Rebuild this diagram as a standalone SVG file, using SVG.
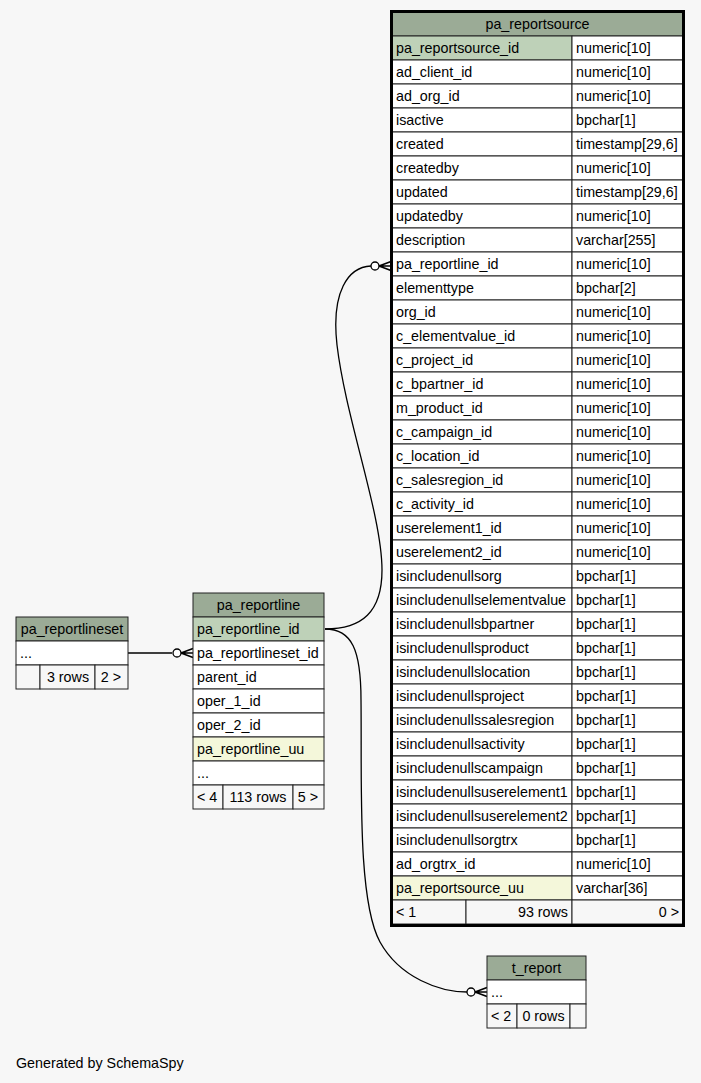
<svg xmlns="http://www.w3.org/2000/svg" width="701" height="1083" viewBox="0 0 701 1083">
<style>
text{font-family:"Liberation Sans",Arial,sans-serif;font-size:14.3px;fill:#000}
.c{stroke:#222;stroke-width:1}
.h{fill:#9bab96}
.pk{fill:#bed1b8}
.uu{fill:#f4f7da}
.w{fill:#fff}
.f{fill:#f7f7f7}
.m{text-anchor:middle}
.e{text-anchor:end}
.edge{fill:none;stroke:#000;stroke-width:1.3}
</style>
<defs>
<g id="crowodot" fill="none" stroke="#000" stroke-width="1.6">
<circle cx="-16" cy="0" r="4" fill="#fff" stroke-width="1.3"/>
<path d="M-12,0 L0,-4.5 M-12,0 L0,0 M-12,0 L0,4.5"/>
</g>
</defs>
<rect x="0" y="0" width="701" height="1083" fill="#f7f7f7"/>

<g id="connectors">
<path class="edge" d="M128,653 L172,653"/>
<path class="edge" d="M325,629 C362,629 382,612 382,570 C382,515 346,420 337,345 C331,292 348,267 371,266"/>
<path class="edge" d="M325,629 C352,629 361,650 361,700 C362,780 357,900 380,942 C400,978 440,992 467,992"/>
<use href="#crowodot" transform="translate(193,653)"/>
<use href="#crowodot" transform="translate(391,266)"/>
<use href="#crowodot" transform="translate(487,992)"/>
</g>

<g id="pa_reportlineset">
<rect class="c h" x="16" y="617" width="112" height="24"/>
<text class="m" x="72" y="633.5">pa_reportlineset</text>
<rect class="c w" x="16" y="641" width="112" height="24"/>
<text x="20" y="657.5">...</text>
<rect class="c f" x="16" y="665" width="24" height="24"/>
<rect class="c f" x="40" y="665" width="55" height="24"/>
<rect class="c f" x="95" y="665" width="33" height="24"/>
<text class="m" x="68" y="681.5">3 rows</text>
<text class="m" x="111" y="681.5">2 &gt;</text>
</g>

<g id="pa_reportline">
<rect class="c h" x="193" y="593" width="131" height="24"/>
<text class="m" x="258.5" y="609.5">pa_reportline</text>
<rect class="c pk" x="193" y="617" width="131" height="24"/>
<text x="197" y="633.5">pa_reportline_id</text>
<rect class="c w" x="193" y="641" width="131" height="24"/>
<text x="197" y="657.5">pa_reportlineset_id</text>
<rect class="c w" x="193" y="665" width="131" height="24"/>
<text x="197" y="681.5">parent_id</text>
<rect class="c w" x="193" y="689" width="131" height="24"/>
<text x="197" y="705.5">oper_1_id</text>
<rect class="c w" x="193" y="713" width="131" height="24"/>
<text x="197" y="729.5">oper_2_id</text>
<rect class="c uu" x="193" y="737" width="131" height="24"/>
<text x="197" y="753.5">pa_reportline_uu</text>
<rect class="c w" x="193" y="761" width="131" height="24"/>
<text x="197" y="777.5">...</text>
<rect class="c f" x="193" y="785" width="30" height="24"/>
<rect class="c f" x="223" y="785" width="70" height="24"/>
<rect class="c f" x="293" y="785" width="31" height="24"/>
<text x="197" y="801.5">&lt; 4</text>
<text class="m" x="258" y="801.5">113 rows</text>
<text class="m" x="308" y="801.5">5 &gt;</text>
</g>

<g id="t_report">
<rect class="c h" x="487" y="956" width="99" height="24"/>
<text class="m" x="536.5" y="972.5">t_report</text>
<rect class="c w" x="487" y="980" width="99" height="24"/>
<text x="491" y="996.5">...</text>
<rect class="c f" x="487" y="1004" width="30" height="24"/>
<rect class="c f" x="517" y="1004" width="53" height="24"/>
<rect class="c f" x="570" y="1004" width="16" height="24"/>
<text x="491" y="1020.5">&lt; 2</text>
<text class="m" x="543.5" y="1020.5">0 rows</text>
</g>

<g id="pa_reportsource">
<rect class="c h" x="392" y="12" width="291" height="24"/>
<text class="m" x="537.5" y="28.5">pa_reportsource</text>
<rect class="c pk" x="392" y="36" width="180" height="24"/><rect class="c w" x="572" y="36" width="111" height="24"/>
<text x="396" y="52.5">pa_reportsource_id</text><text x="576" y="52.5">numeric[10]</text>
<rect class="c w" x="392" y="60" width="180" height="24"/><rect class="c w" x="572" y="60" width="111" height="24"/>
<text x="396" y="76.5">ad_client_id</text><text x="576" y="76.5">numeric[10]</text>
<rect class="c w" x="392" y="84" width="180" height="24"/><rect class="c w" x="572" y="84" width="111" height="24"/>
<text x="396" y="100.5">ad_org_id</text><text x="576" y="100.5">numeric[10]</text>
<rect class="c w" x="392" y="108" width="180" height="24"/><rect class="c w" x="572" y="108" width="111" height="24"/>
<text x="396" y="124.5">isactive</text><text x="576" y="124.5">bpchar[1]</text>
<rect class="c w" x="392" y="132" width="180" height="24"/><rect class="c w" x="572" y="132" width="111" height="24"/>
<text x="396" y="148.5">created</text><text x="576" y="148.5">timestamp[29,6]</text>
<rect class="c w" x="392" y="156" width="180" height="24"/><rect class="c w" x="572" y="156" width="111" height="24"/>
<text x="396" y="172.5">createdby</text><text x="576" y="172.5">numeric[10]</text>
<rect class="c w" x="392" y="180" width="180" height="24"/><rect class="c w" x="572" y="180" width="111" height="24"/>
<text x="396" y="196.5">updated</text><text x="576" y="196.5">timestamp[29,6]</text>
<rect class="c w" x="392" y="204" width="180" height="24"/><rect class="c w" x="572" y="204" width="111" height="24"/>
<text x="396" y="220.5">updatedby</text><text x="576" y="220.5">numeric[10]</text>
<rect class="c w" x="392" y="228" width="180" height="24"/><rect class="c w" x="572" y="228" width="111" height="24"/>
<text x="396" y="244.5">description</text><text x="576" y="244.5">varchar[255]</text>
<rect class="c w" x="392" y="252" width="180" height="24"/><rect class="c w" x="572" y="252" width="111" height="24"/>
<text x="396" y="268.5">pa_reportline_id</text><text x="576" y="268.5">numeric[10]</text>
<rect class="c w" x="392" y="276" width="180" height="24"/><rect class="c w" x="572" y="276" width="111" height="24"/>
<text x="396" y="292.5">elementtype</text><text x="576" y="292.5">bpchar[2]</text>
<rect class="c w" x="392" y="300" width="180" height="24"/><rect class="c w" x="572" y="300" width="111" height="24"/>
<text x="396" y="316.5">org_id</text><text x="576" y="316.5">numeric[10]</text>
<rect class="c w" x="392" y="324" width="180" height="24"/><rect class="c w" x="572" y="324" width="111" height="24"/>
<text x="396" y="340.5">c_elementvalue_id</text><text x="576" y="340.5">numeric[10]</text>
<rect class="c w" x="392" y="348" width="180" height="24"/><rect class="c w" x="572" y="348" width="111" height="24"/>
<text x="396" y="364.5">c_project_id</text><text x="576" y="364.5">numeric[10]</text>
<rect class="c w" x="392" y="372" width="180" height="24"/><rect class="c w" x="572" y="372" width="111" height="24"/>
<text x="396" y="388.5">c_bpartner_id</text><text x="576" y="388.5">numeric[10]</text>
<rect class="c w" x="392" y="396" width="180" height="24"/><rect class="c w" x="572" y="396" width="111" height="24"/>
<text x="396" y="412.5">m_product_id</text><text x="576" y="412.5">numeric[10]</text>
<rect class="c w" x="392" y="420" width="180" height="24"/><rect class="c w" x="572" y="420" width="111" height="24"/>
<text x="396" y="436.5">c_campaign_id</text><text x="576" y="436.5">numeric[10]</text>
<rect class="c w" x="392" y="444" width="180" height="24"/><rect class="c w" x="572" y="444" width="111" height="24"/>
<text x="396" y="460.5">c_location_id</text><text x="576" y="460.5">numeric[10]</text>
<rect class="c w" x="392" y="468" width="180" height="24"/><rect class="c w" x="572" y="468" width="111" height="24"/>
<text x="396" y="484.5">c_salesregion_id</text><text x="576" y="484.5">numeric[10]</text>
<rect class="c w" x="392" y="492" width="180" height="24"/><rect class="c w" x="572" y="492" width="111" height="24"/>
<text x="396" y="508.5">c_activity_id</text><text x="576" y="508.5">numeric[10]</text>
<rect class="c w" x="392" y="516" width="180" height="24"/><rect class="c w" x="572" y="516" width="111" height="24"/>
<text x="396" y="532.5">userelement1_id</text><text x="576" y="532.5">numeric[10]</text>
<rect class="c w" x="392" y="540" width="180" height="24"/><rect class="c w" x="572" y="540" width="111" height="24"/>
<text x="396" y="556.5">userelement2_id</text><text x="576" y="556.5">numeric[10]</text>
<rect class="c w" x="392" y="564" width="180" height="24"/><rect class="c w" x="572" y="564" width="111" height="24"/>
<text x="396" y="580.5">isincludenullsorg</text><text x="576" y="580.5">bpchar[1]</text>
<rect class="c w" x="392" y="588" width="180" height="24"/><rect class="c w" x="572" y="588" width="111" height="24"/>
<text x="396" y="604.5">isincludenullselementvalue</text><text x="576" y="604.5">bpchar[1]</text>
<rect class="c w" x="392" y="612" width="180" height="24"/><rect class="c w" x="572" y="612" width="111" height="24"/>
<text x="396" y="628.5">isincludenullsbpartner</text><text x="576" y="628.5">bpchar[1]</text>
<rect class="c w" x="392" y="636" width="180" height="24"/><rect class="c w" x="572" y="636" width="111" height="24"/>
<text x="396" y="652.5">isincludenullsproduct</text><text x="576" y="652.5">bpchar[1]</text>
<rect class="c w" x="392" y="660" width="180" height="24"/><rect class="c w" x="572" y="660" width="111" height="24"/>
<text x="396" y="676.5">isincludenullslocation</text><text x="576" y="676.5">bpchar[1]</text>
<rect class="c w" x="392" y="684" width="180" height="24"/><rect class="c w" x="572" y="684" width="111" height="24"/>
<text x="396" y="700.5">isincludenullsproject</text><text x="576" y="700.5">bpchar[1]</text>
<rect class="c w" x="392" y="708" width="180" height="24"/><rect class="c w" x="572" y="708" width="111" height="24"/>
<text x="396" y="724.5">isincludenullssalesregion</text><text x="576" y="724.5">bpchar[1]</text>
<rect class="c w" x="392" y="732" width="180" height="24"/><rect class="c w" x="572" y="732" width="111" height="24"/>
<text x="396" y="748.5">isincludenullsactivity</text><text x="576" y="748.5">bpchar[1]</text>
<rect class="c w" x="392" y="756" width="180" height="24"/><rect class="c w" x="572" y="756" width="111" height="24"/>
<text x="396" y="772.5">isincludenullscampaign</text><text x="576" y="772.5">bpchar[1]</text>
<rect class="c w" x="392" y="780" width="180" height="24"/><rect class="c w" x="572" y="780" width="111" height="24"/>
<text x="396" y="796.5">isincludenullsuserelement1</text><text x="576" y="796.5">bpchar[1]</text>
<rect class="c w" x="392" y="804" width="180" height="24"/><rect class="c w" x="572" y="804" width="111" height="24"/>
<text x="396" y="820.5">isincludenullsuserelement2</text><text x="576" y="820.5">bpchar[1]</text>
<rect class="c w" x="392" y="828" width="180" height="24"/><rect class="c w" x="572" y="828" width="111" height="24"/>
<text x="396" y="844.5">isincludenullsorgtrx</text><text x="576" y="844.5">bpchar[1]</text>
<rect class="c w" x="392" y="852" width="180" height="24"/><rect class="c w" x="572" y="852" width="111" height="24"/>
<text x="396" y="868.5">ad_orgtrx_id</text><text x="576" y="868.5">numeric[10]</text>
<rect class="c uu" x="392" y="876" width="180" height="24"/><rect class="c w" x="572" y="876" width="111" height="24"/>
<text x="396" y="892.5">pa_reportsource_uu</text><text x="576" y="892.5">varchar[36]</text>
<rect class="c f" x="392" y="900" width="74" height="24"/><rect class="c f" x="466" y="900" width="106" height="24"/><rect class="c f" x="572" y="900" width="111" height="24"/>
<text x="396" y="916.5">&lt; 1</text><text class="e" x="568" y="916.5">93 rows</text><text class="e" x="679" y="916.5">0 &gt;</text>
<rect x="391.5" y="11.5" width="292" height="914" fill="none" stroke="#000" stroke-width="3"/>
</g>

<text x="16" y="1067.5">Generated by SchemaSpy</text>
</svg>
